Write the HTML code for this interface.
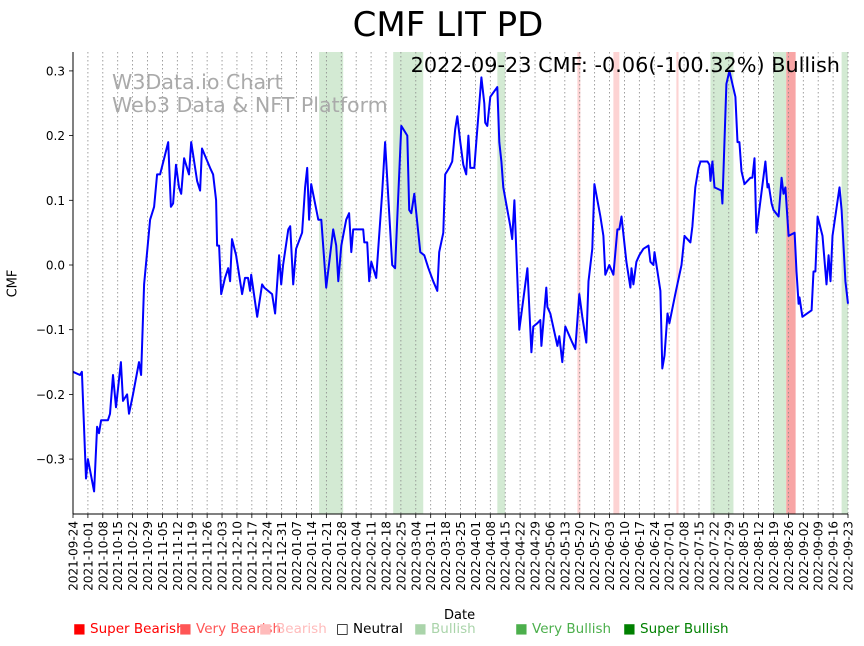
<!DOCTYPE html>
<html><head><meta charset="utf-8"><style>
body{margin:0;background:#fff;font-family:"DejaVu Sans","Liberation Sans",sans-serif}
svg{display:block}
svg text{font-family:"DejaVu Sans","Liberation Sans",sans-serif}
</style></head><body>
<svg id="chart" width="864" height="646" xmlns="http://www.w3.org/2000/svg"></svg>
<script>
const dayIdx=[0,3.3,4.2,6.1,7,9.9,11.3,12.2,13.2,16.4,17.4,18.8,20.2,22.5,23.5,25.4,26.3,28.2,31,32,33.4,34.8,36.2,38.1,39.5,40.9,43.2,44.7,46,47,48.4,49.8,50.8,52.2,54.5,55.5,58.3,59.7,60.6,64.4,65.8,67.2,67.7,68.6,69.6,71.4,72.9,73.8,74.7,76.6,78.5,79.4,80.8,82.2,83.2,83.7,86.5,88.8,89.8,93.5,94.9,96.8,97.8,98.7,101.1,102,103.4,104.8,107.6,109,110,110.9,111.9,115.2,116.6,118.9,122.2,123.6,124.6,126,128.3,129.7,130.7,131.6,136.3,136.8,138.2,139.1,140.1,142.4,145.2,146.6,149.9,151.3,154.2,157,157.9,158.9,160.3,163.1,165,166.9,169.2,171.1,172,173.9,174.8,176.7,178.1,179.5,180.5,181.9,183.3,184.7,185.7,186.6,188.5,189.9,191.8,193.2,193.6,194.6,196,199.3,200.2,201.2,202.1,205.4,206.3,207.3,209.6,213.4,215.3,216.2,218.1,219.5,220,222.3,222.8,224.2,227.5,228.4,229.8,231.2,234.5,235.9,237.8,239.2,241.1,242.1,243.9,244.9,247.7,249.1,250,251.9,253.8,255.7,256.6,257.6,259.9,261.8,262.3,263.2,264.6,266,267.9,270.3,271.2,272.6,273.1,275.9,276.8,277.8,279.2,280.1,282.9,285.8,287.2,290,290.9,292.3,293.8,294.7,298,298.9,299.4,300.3,301.3,304.6,305,306.9,308.3,311.1,312.1,313,314,315.4,318.2,319.1,320.1,321,322.9,325.2,326.2,326.7,328.1,329,331.4,332.8,333.7,334.6,336.1,338.9,339.8,340.8,341.2,342.6,346.9,347.8,348.7,349.7,352,353.9,354.9,355.8,356.7,360,361,362.8,364];
const cmfValues=[-0.165,-0.17,-0.165,-0.33,-0.3,-0.35,-0.25,-0.26,-0.24,-0.24,-0.23,-0.17,-0.22,-0.15,-0.21,-0.2,-0.23,-0.2,-0.15,-0.17,-0.03,0.02,0.07,0.09,0.14,0.14,0.17,0.19,0.09,0.095,0.155,0.12,0.11,0.165,0.14,0.19,0.13,0.115,0.18,0.15,0.14,0.1,0.03,0.03,-0.045,-0.02,-0.005,-0.025,0.04,0.015,-0.025,-0.045,-0.02,-0.02,-0.04,-0.015,-0.08,-0.03,-0.035,-0.045,-0.075,0.015,-0.03,0.0,0.055,0.06,-0.03,0.025,0.05,0.12,0.15,0.07,0.125,0.07,0.07,-0.035,0.055,0.03,-0.025,0.03,0.07,0.08,0.02,0.055,0.055,0.035,0.035,-0.025,0.005,-0.02,0.11,0.19,0.0,-0.005,0.215,0.2,0.085,0.08,0.11,0.02,0.015,-0.005,-0.025,-0.04,0.02,0.05,0.14,0.15,0.16,0.21,0.23,0.19,0.155,0.14,0.2,0.15,0.15,0.21,0.29,0.25,0.22,0.215,0.26,0.275,0.19,0.16,0.12,0.06,0.04,0.1,-0.1,-0.005,-0.135,-0.095,-0.09,-0.085,-0.125,-0.035,-0.065,-0.075,-0.125,-0.11,-0.15,-0.095,-0.12,-0.13,-0.045,-0.08,-0.12,-0.025,0.025,0.125,0.075,0.045,-0.015,0.0,-0.015,0.055,0.055,0.075,0.005,-0.035,-0.005,-0.03,0.005,0.015,0.025,0.03,0.005,0.0,0.02,-0.04,-0.16,-0.14,-0.075,-0.09,-0.045,0.0,0.045,0.035,0.06,0.12,0.15,0.16,0.16,0.155,0.13,0.16,0.12,0.115,0.095,0.28,0.3,0.26,0.19,0.19,0.145,0.125,0.135,0.135,0.165,0.05,0.1,0.16,0.12,0.125,0.095,0.085,0.075,0.135,0.11,0.12,0.045,0.05,-0.01,-0.06,-0.05,-0.08,-0.07,-0.01,-0.01,0.075,0.045,-0.03,0.015,-0.025,0.045,0.12,0.085,-0.025,-0.06];
const bandStart=[115.6,150.4,199.3,299.4,329,361,236.9,253.8,283.4,335];
const bandEnd=[126.9,164.5,203,310.2,335,364,238.3,256.6,284.4,339.4];
const bandKind=["bullish","bullish","bullish","bullish","bullish","bullish","bearish","bearish","bearish","very-bearish"];
const yTicks=[0.3,0.2,0.1,0.0,-0.1,-0.2,-0.3];
const yTickLabels=["0.3","0.2","0.1","0.0","−0.1","−0.2","−0.3"];

const NS="http://www.w3.org/2000/svg";
const svg=document.getElementById('chart');
const L=73,R=848,T=52,B=514;
const x=d=>L+d*(R-L)/364;
const y=v=>265-v*647;
function mk(tag,attrs,parent){const e=document.createElementNS(NS,tag);for(const k in attrs)e.setAttribute(k,attrs[k]);(parent||svg).appendChild(e);return e;}
const bandColor={"bullish":"#d3ead3","bearish":"#fdd3d3","very-bearish":"#f8a5a5"};
bandStart.forEach((s,i)=>{
  const r=mk('rect',{x:x(s),y:T,width:x(bandEnd[i])-x(s),height:B-T,fill:bandColor[bandKind[i]]});
  
  
});
const start=new Date(Date.UTC(2021,8,24));
for(let w=0;w<=52;w++){
  const d=w*7, px=x(d);
  const dt=new Date(start.getTime()+d*86400000);
  const lab=dt.toISOString().slice(0,10);
  const g=mk('line',{x1:px,y1:T,x2:px,y2:B,stroke:'#888','stroke-width':0.8,'stroke-dasharray':'1.5,2.5'});
  
  
  mk('line',{x1:px,y1:B,x2:px,y2:B+4,stroke:'#000','stroke-width':0.8});
  const t=mk('text',{x:0,y:0,transform:`translate(${px+4.5},${B+7}) rotate(-90)`,'text-anchor':'end','font-size':12,fill:'#000'});
  t.textContent=lab;
  
  
}
yTicks.forEach((v,i)=>{
  const py=y(v);
  mk('line',{x1:L-4,y1:py,x2:L,y2:py,stroke:'#000','stroke-width':0.8});
  const t=mk('text',{x:L-8,y:py+4.5,'text-anchor':'end','font-size':12,fill:'#000'});
  t.textContent=yTickLabels[i];
  
  
});
const line=mk('polyline',{points:dayIdx.map((d,i)=>x(d).toFixed(1)+','+y(cmfValues[i]).toFixed(1)).join(' '),fill:'none',stroke:'#0000ff','stroke-width':2,'stroke-linejoin':'round'});


mk('line',{x1:L,y1:T,x2:L,y2:B,stroke:'#000','stroke-width':1});
mk('line',{x1:L,y1:B,x2:R,y2:B,stroke:'#000','stroke-width':1});
</script>
<div style="position:absolute;left:0;top:0;width:864px;height:646px;pointer-events:none">
<div style="position:absolute;left:0;width:896px;top:5px;text-align:center;font-size:34px;">CMF LIT PD</div>
<div style="position:absolute;left:112px;top:71px;font-size:20.6px;color:#aaa;line-height:23px">W3Data.io Chart<br>Web3 Data &amp; NFT Platform</div>
<div style="position:absolute;right:24px;top:53px;font-size:20.8px;">2022-09-23 CMF: -0.06(-100.32%) Bullish</div>
<div style="position:absolute;left:444px;top:608px;font-size:13px;">Date</div>
<div style="position:absolute;left:-1px;top:276px;font-size:13px;transform:rotate(-90deg);">CMF</div>
<div style="position:absolute;top:621px;left:0;font-size:13.5px;white-space:nowrap">
<span style="position:absolute;left:73px;color:#f00">■ Super Bearish</span>
<span style="position:absolute;left:179px;color:#f55">■ Very Bearish</span>
<span style="position:absolute;left:259px;color:#fbb">■ Bearish</span>
<span style="position:absolute;left:336px;color:#000">□ Neutral</span>
<span style="position:absolute;left:414px;color:#aad4aa">■ Bullish</span>
<span style="position:absolute;left:515px;color:#4caf4c">■ Very Bullish</span>
<span style="position:absolute;left:623px;color:#008000">■ Super Bullish</span>
</div>
</div>
</body></html>
